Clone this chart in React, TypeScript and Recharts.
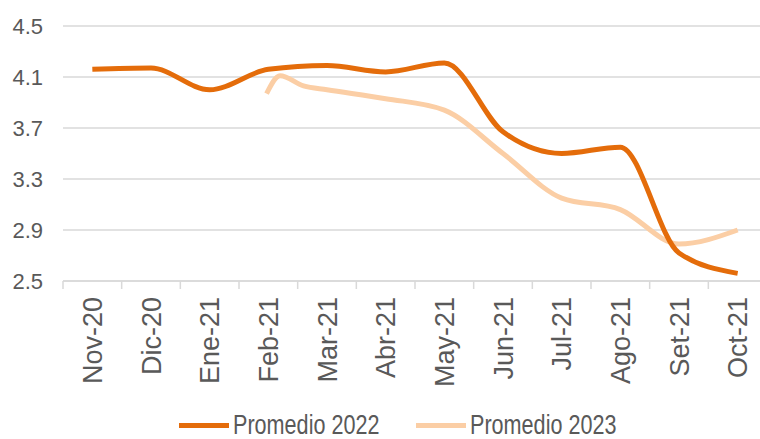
import { CartesianGrid, Legend, Line, LineChart, XAxis, YAxis } from "recharts";

const months = ["Nov-20", "Dic-20", "Ene-21", "Feb-21", "Mar-21", "Abr-21", "May-21", "Jun-21", "Jul-21", "Ago-21", "Set-21", "Oct-21"];
const avg2022 = [4.16, 4.17, 4.0, 4.16, 4.19, 4.14, 4.21, 3.67, 3.5, 3.55, 2.72, 2.56];
// 2023 series starts mid-chart; positions in month index
const pos2023 = [2.97, 3.2, 3.6, 4, 5, 6, 7, 8, 9, 10, 11];
const avg2023 = [3.97, 4.11, 4.03, 4.0, 3.93, 3.84, 3.5, 3.15, 3.06, 2.79, 2.9];
const yTicks = [2.5, 2.9, 3.3, 3.7, 4.1, 4.5];

const DARK = "#E46C0A";
const LIGHT = "#FBCEA5";
const TEXT = "#595959";
const GRID = "#D9D9D9";

const data2022 = avg2022.map((v, i) => ({ x: i, v }));
const data2023 = avg2023.map((v, i) => ({ x: pos2023[i], v }));

function MonthTick(props: any) {
  const { x, y, payload, width } = props;
  const band = (width || 704) / months.length;
  const label = months[payload.value] ?? "";
  return (
    <g>
      <line x1={x - band / 2} y1={y} x2={x - band / 2} y2={y + 8} stroke={GRID} strokeWidth={1.5} />
      <text
        x={x}
        y={y + 16}
        transform={`rotate(-90, ${x}, ${y + 16})`}
        textAnchor="end"
        dy="0.36em"
        fill={TEXT}
        fontSize={27}
        fontFamily="'Liberation Sans', Arial, sans-serif"
      >
        {label}
      </text>
    </g>
  );
}

// condensed look of the original legend font
function LegendBox() {
  const items = [
    { name: "Promedio 2022", color: DARK },
    { name: "Promedio 2023", color: LIGHT },
  ];
  return (
    <div style={{ display: "flex", justifyContent: "center", alignItems: "center", height: 24, paddingLeft: 30 }}>
      {items.map((it, i) => (
        <div key={it.name} style={{ display: "flex", alignItems: "center", marginLeft: i ? 35 : 0 }}>
          <span style={{ display: "inline-block", width: 50, height: 5, background: it.color, marginRight: 4 }} />
          <span style={{ display: "inline-block", width: 148, height: 24, overflow: "visible", whiteSpace: "nowrap" }}>
            <span
              style={{
                display: "inline-block",
                fontFamily: "'Liberation Sans', Arial, sans-serif",
                fontSize: 27,
                color: TEXT,
                lineHeight: "24px",
                transform: "scaleX(0.8)",
                transformOrigin: "left center",
              }}
            >
              {it.name}
            </span>
          </span>
        </div>
      ))}
    </div>
  );
}

export default function App() {
  return (
    <div style={{ position: "absolute", left: 0, top: 0, width: 760, height: 439, overflow: "hidden", background: "#fff" }}>
      <LineChart width={767} height={439} margin={{ top: 26, right: 0, bottom: 2, left: 0 }}>
        <CartesianGrid horizontal vertical={false} stroke={GRID} strokeWidth={1.5} />
        <XAxis
          type="number"
          dataKey="x"
          domain={[-0.5, 11.5]}
          ticks={months.map((_, i) => i)}
          interval={0}
          height={132}
          tickSize={0}
          tickMargin={0}
          tickLine={false}
          axisLine={{ stroke: GRID, strokeWidth: 1.5 }}
          tick={<MonthTick />}
          allowDataOverflow
        />
        <YAxis
          type="number"
          domain={[2.5, 4.5]}
          ticks={yTicks}
          width={63}
          tickSize={0}
          tickMargin={20}
          axisLine={false}
          tickLine={false}
          tickFormatter={(v: number) => v.toFixed(1)}
          tick={{ fill: TEXT, fontSize: 22, fontFamily: "'Liberation Sans', Arial, sans-serif" }}
        />
        <Legend verticalAlign="bottom" height={24} content={<LegendBox />} />
        <Line
          data={data2023}
          dataKey="v"
          name="Promedio 2023"
          type="monotone"
          stroke={LIGHT}
          strokeWidth={5}
          dot={false}
          activeDot={false}
          isAnimationActive={false}
        />
        <Line
          data={data2022}
          dataKey="v"
          name="Promedio 2022"
          type="monotone"
          stroke={DARK}
          strokeWidth={5}
          dot={false}
          activeDot={false}
          isAnimationActive={false}
        />
      </LineChart>
    </div>
  );
}
